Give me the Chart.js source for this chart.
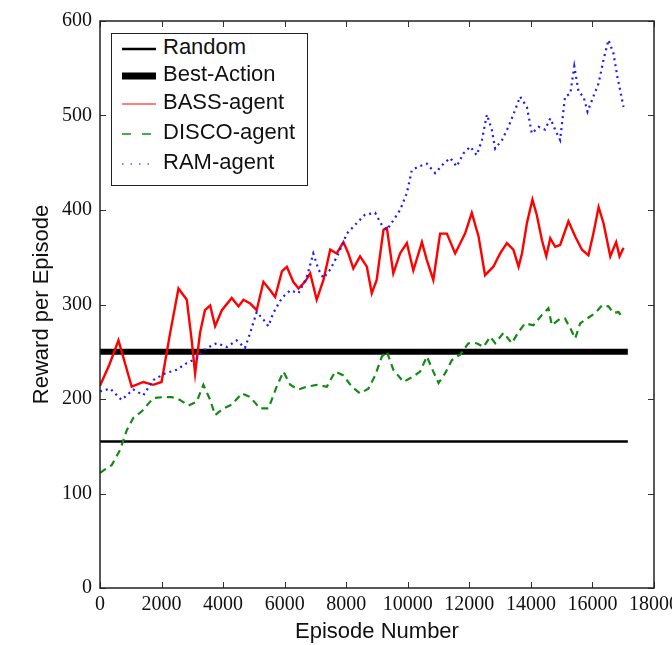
<!DOCTYPE html>
<html>
<head>
<meta charset="utf-8">
<title>Reward per Episode</title>
<script src="https://cdn.jsdelivr.net/npm/chart.js@4.4.1/dist/chart.umd.min.js"></script>
<style>
  html, body { margin: 0; padding: 0; background: #fff; }
  #wrap { position: relative; width: 672px; height: 645px; }
  #legend {
    position: absolute; left: 111px; top: 33px; width: 197px; height: 153px;
    border: 1px solid #222; background: #fff; box-sizing: border-box;
  }
  .row { position: absolute; left: 0; width: 190px; height: 30px; }
  .row canvas { position: absolute; left: 10px; top: 0; }
  .row span {
    position: absolute; left: 51px; top: 0; line-height: 30px;
    font: 22px "Liberation Sans", Arial, sans-serif; color: #111; white-space: nowrap;
  }
</style>
</head>
<body>
<div id="wrap">
  <canvas id="chart" width="672" height="645"></canvas>
  <div id="legend"></div>
</div>
<script>
// Axis ticks
const xTickValues = [0, 2000, 4000, 6000, 8000, 10000, 12000, 14000, 16000, 18000];
const yTickValues = [0, 100, 200, 300, 400, 500, 600];

// Baselines (constant reward per episode)
const baselineEpisodes = [0, 17150];
const randomReward = [155, 155];
const bestActionReward = [250, 250];

// BASS-agent
const bassEpisodes = [0, 300, 600, 1030, 1410, 1730, 2000, 2280, 2550, 2820, 2980, 3090, 3250, 3410, 3580, 3740, 3960,
  4280, 4500, 4660, 4880, 5090, 5310, 5530, 5690, 5910, 6070, 6280, 6450, 6660, 6830, 7040, 7260, 7480, 7690, 7910,
  8070, 8230, 8450, 8670, 8830, 8990, 9210, 9320, 9530, 9750, 9970, 10180, 10460, 10620, 10830, 11050, 11270, 11540,
  11860, 12080, 12300, 12510, 12780, 13000, 13220, 13430, 13600, 13710, 13870, 14050, 14190, 14360, 14500, 14630,
  14790, 14950, 15220, 15440, 15660, 15870, 16030, 16200, 16360, 16580, 16770, 16880, 17010];
const bassReward = [214, 236, 262, 213, 218, 215, 218, 270, 317, 305, 262, 227, 270, 294, 299, 277, 294,
  307, 298, 305, 301, 294, 324, 315, 308, 335, 340, 324, 317, 324, 333, 305, 326, 358, 354, 366,
  354, 338, 351, 340, 312, 326, 379, 381, 333, 354, 365, 336, 366, 347, 326, 375, 375, 354,
  375, 397, 372, 331, 340, 354, 365, 358, 340, 354, 386, 411, 395, 368, 351, 370,
  361, 363, 388, 372, 358, 352, 375, 403, 386, 351, 366, 351, 360];

// DISCO-agent
const discoEpisodes = [0, 380, 650, 870, 1080, 1360, 1730, 2060, 2330, 2600, 2870, 3140, 3360, 3580, 3740, 4010,
  4280, 4610, 4880, 5200, 5470, 5740, 5960, 6180, 6450, 6720, 7040, 7370, 7640, 7910, 8180, 8450, 8720, 8940, 9160,
  9320, 9530, 9860, 10180, 10400, 10620, 10830, 11000, 11210, 11430, 11700, 11970, 12240, 12460, 12680, 12840, 13110,
  13380, 13600, 13810, 14080, 14360, 14570, 14680, 14950, 15110, 15280, 15440, 15600, 15820, 16090, 16310, 16520,
  16680, 16850, 16990];
const discoReward = [122, 130, 146, 167, 180, 187, 201, 202, 202, 199, 193, 197, 215, 199, 183, 190,
  194, 206, 202, 190, 190, 213, 229, 215, 210, 213, 215, 213, 229, 225, 213, 206, 211, 225, 245,
  250, 231, 218, 224, 229, 245, 229, 217, 227, 241, 247, 259, 259, 255, 266, 259, 270,
  259, 271, 280, 278, 289, 296, 278, 285, 285, 275, 264, 280, 285, 291, 299, 298,
  291, 292, 285];

// RAM-agent
const ramEpisodes = [0, 330, 700, 1080, 1410, 1730, 2110, 2490, 2820, 3140, 3470, 3790, 4120, 4440, 4710, 4880,
  5090, 5310, 5470, 5630, 5910, 6180, 6450, 6720, 6930, 7100, 7260, 7480, 7750, 8020, 8340, 8610, 8940, 9160, 9320,
  9530, 9750, 9970, 10130, 10350, 10620, 10890, 11160, 11380, 11590, 11810, 12030, 12240, 12410, 12570, 12730, 12840,
  13060, 13270, 13490, 13650, 13870, 14030, 14250, 14460, 14630, 14790, 14950, 15110, 15280, 15410, 15550, 15710,
  15840, 16030, 16200, 16360, 16520, 16680, 16810, 17010];
const ramReward = [208, 211, 199, 210, 204, 220, 227, 231, 238, 243, 254, 259, 255, 262, 254, 270,
  292, 284, 277, 291, 307, 315, 312, 329, 354, 337, 328, 337, 354, 375, 386, 395, 397, 384, 379,
  389, 400, 418, 442, 446, 449, 439, 449, 455, 446, 460, 467, 458, 474, 501, 485, 465,
  474, 488, 506, 520, 509, 481, 488, 485, 497, 485, 474, 520, 523, 552, 525, 520,
  504, 520, 534, 559, 580, 566, 541, 509];

const pairs = (xs, ys) => xs.map((x, i) => ({ x, y: ys[i] }));

const SERIF = '"Liberation Serif", "Times New Roman", serif';
const SANS = '"Liberation Sans", Arial, sans-serif';

// Legend sample styles (handles are drawn shorter/thinner than the plotted traces)
const legendRows = [
  { label: 'Random',      color: '#000',    width: 2.5, dash: [],      y: 49 },
  { label: 'Best-Action', color: '#000',    width: 7,   dash: [],      y: 76 },
  { label: 'BASS-agent',  color: '#ff0000', width: 1.2, dash: [],      y: 104 },
  { label: 'DISCO-agent', color: '#138a13', width: 1.6, dash: [9, 11], y: 134 },
  { label: 'RAM-agent',   color: '#5555ff', width: 1.6, dash: [1.5, 7], y: 164 }
];

// Closed frame with inward tick marks on all four sides
const frameAndTicks = {
  id: 'frameAndTicks',
  afterDatasetsDraw(chart) {
    const { ctx, chartArea: a, scales: { x, y } } = chart;
    const L = 6;
    ctx.save();
    ctx.strokeStyle = '#333';
    ctx.lineWidth = 1;
    ctx.beginPath();
    x.ticks.forEach(t => {
      const px = Math.round(x.getPixelForValue(t.value)) + 0.5;
      ctx.moveTo(px, a.bottom); ctx.lineTo(px, a.bottom - L);
      ctx.moveTo(px, a.top); ctx.lineTo(px, a.top + L);
    });
    y.ticks.forEach(t => {
      const py = Math.round(y.getPixelForValue(t.value)) + 0.5;
      ctx.moveTo(a.left, py); ctx.lineTo(a.left + L, py);
      ctx.moveTo(a.right, py); ctx.lineTo(a.right - L, py);
    });
    ctx.stroke();
    ctx.strokeStyle = '#222';
    ctx.lineWidth = 1.5;
    ctx.strokeRect(a.left, a.top, a.right - a.left, a.bottom - a.top);
    ctx.restore();
  }
};

const chart = new Chart(document.getElementById('chart'), {
  type: 'line',
  data: {
    datasets: [
      { label: 'Random', data: pairs(baselineEpisodes, randomReward),
        borderColor: '#000', borderWidth: 2.5, order: 5 },
      { label: 'Best-Action', data: pairs(baselineEpisodes, bestActionReward),
        borderColor: '#000', borderWidth: 6, order: 4 },
      { label: 'BASS-agent', data: pairs(bassEpisodes, bassReward),
        borderColor: '#ff0000', borderWidth: 2.4, order: 3 },
      { label: 'DISCO-agent', data: pairs(discoEpisodes, discoReward),
        borderColor: '#138a13', borderWidth: 2.2, borderDash: [7, 5], order: 2 },
      { label: 'RAM-agent', data: pairs(ramEpisodes, ramReward),
        borderColor: '#1a1aff', borderWidth: 2.2, borderDash: [2, 4], order: 1 }
    ]
  },
  options: {
    responsive: false,
    animation: false,
    elements: { point: { radius: 0 }, line: { tension: 0, borderCapStyle: 'butt' } },
    layout: { padding: { top: 21, right: 18, bottom: 0, left: 0 } },
    plugins: { legend: { display: false }, tooltip: { enabled: false } },
    scales: {
      x: {
        type: 'linear', min: 0, max: 18000,
        grid: { display: false, drawTicks: false },
        border: { display: false },
        afterBuildTicks: s => { s.ticks = xTickValues.map(v => ({ value: v })); },
        ticks: { autoSkip: false, maxRotation: 0, padding: 5, color: '#111',
                 font: { family: SERIF, size: 20 }, callback: v => String(v) },
        title: { display: true, text: 'Episode Number', color: '#111',
                 font: { family: SANS, size: 22 }, padding: { top: 0, bottom: 0 } },
        afterFit: s => { s.height = 57; s.paddingLeft = 0; s.paddingRight = 0; }
      },
      y: {
        type: 'linear', min: 0, max: 600,
        grid: { display: false, drawTicks: false },
        border: { display: false },
        afterBuildTicks: s => { s.ticks = yTickValues.map(v => ({ value: v })); },
        ticks: { autoSkip: false, padding: 8, color: '#111',
                 font: { family: SERIF, size: 20 }, callback: v => String(v) },
        title: { display: true, text: 'Reward per Episode', color: '#111',
                 font: { family: SANS, size: 22 }, padding: { top: 29, bottom: 0 } },
        afterFit: s => { s.width = 100; s.paddingTop = 0; s.paddingBottom = 0; }
      }
    }
  },
  plugins: [frameAndTicks]
});

// Legend box
const legendEl = document.getElementById('legend');
const boxTop = 33 + 1;
legendRows.forEach(r => {
  const row = document.createElement('div');
  row.className = 'row';
  row.style.top = (r.y - boxTop - 15) + 'px';
  const c = document.createElement('canvas');
  c.width = 34; c.height = 30;
  const g = c.getContext('2d');
  g.strokeStyle = r.color;
  g.lineWidth = r.width;
  g.setLineDash(r.dash);
  g.beginPath(); g.moveTo(0, 15); g.lineTo(34, 15); g.stroke();
  const t = document.createElement('span');
  t.textContent = r.label;
  row.appendChild(c); row.appendChild(t);
  legendEl.appendChild(row);
});
</script>
</body>
</html>
